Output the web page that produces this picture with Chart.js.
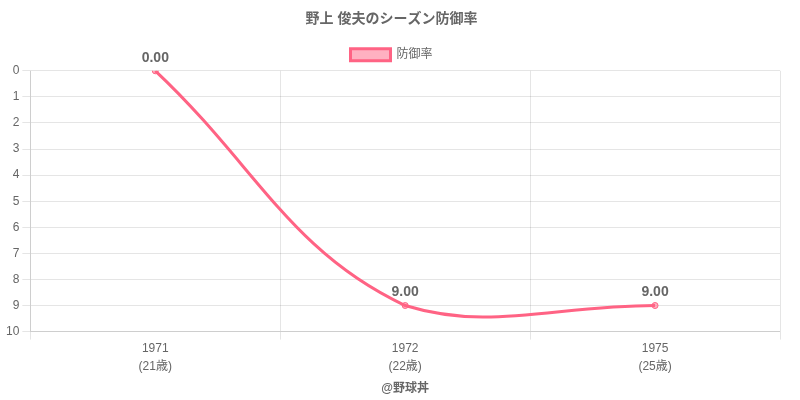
<!DOCTYPE html>
<html>
<head>
<meta charset="utf-8">
<script src="https://cdn.jsdelivr.net/npm/chart.js@4"></script>
<style>
  html, body { margin: 0; padding: 0; background: #fff; }
  #wrap { width: 800px; height: 400px; }
</style>
</head>
<body>
<div id="wrap"><canvas id="eraChart"></canvas></div>
<script>
// season ERA data
const years = ['1971', '1972', '1975'];
const ages = ['(21歳)', '(22歳)', '(25歳)'];
const era = [0.00, 9.00, 9.00];
const yTicks = [0, 1, 2, 3, 4, 5, 6, 7, 8, 9, 10];

Chart.defaults.font.family = "'Helvetica Neue', Helvetica, Arial, 'Noto Sans CJK JP', sans-serif";
Chart.defaults.color = '#666';

// draws value labels above each point
const pointLabels = {
  id: 'pointLabels',
  afterDatasetsDraw(chart) {
    const ctx = chart.ctx;
    const meta = chart.getDatasetMeta(0);
    ctx.save();
    ctx.font = "bold 14px 'Helvetica Neue', Helvetica, Arial, sans-serif";
    ctx.fillStyle = '#666';
    ctx.textAlign = 'center';
    ctx.textBaseline = 'bottom';
    meta.data.forEach((pt, i) => {
      ctx.fillText(era[i].toFixed(2), pt.x, pt.y - 6);
    });
    ctx.restore();
  }
};

const ctx = document.getElementById('eraChart').getContext('2d');
const eraChart = new Chart(ctx, {
  type: 'line',
  data: {
    labels: years.map((y, i) => [y, ages[i]]),
    datasets: [{
      label: '防御率',
      data: era,
      borderColor: 'rgb(255, 99, 132)',
      backgroundColor: 'rgba(255, 99, 132, 0.5)',
      borderWidth: 3,
      pointRadius: 3,
      pointBorderWidth: 1,
      tension: 0.4,
      fill: false
    }]
  },
  options: {
    responsive: true,
    maintainAspectRatio: false,
    animation: false,
    layout: { padding: { left: 3, right: 20, top: 0, bottom: 0 } },
    plugins: {
      title: {
        display: true,
        text: '野上 俊夫のシーズン防御率',
        font: { size: 14, weight: 'bold' },
        color: '#666',
        padding: { top: 11, bottom: 11 }
      },
      legend: {
        display: true,
        position: 'top',
        labels: { font: { size: 12 }, color: '#666' }
      },
      tooltip: { enabled: false }
    },
    scales: {
      x: {
        offset: true,
        grid: { offset: true, color: 'rgba(0,0,0,0.1)' },
        ticks: { font: { size: 12, lineHeight: 1.5 }, color: '#666', padding: 0 },
        title: {
          display: true,
          text: '@野球丼',
          font: { size: 12, weight: 'bold' },
          color: '#666',
          padding: { top: 6, bottom: 4 }
        }
      },
      y: {
        reverse: true,
        min: 0,
        max: 10,
        afterBuildTicks(axis) {
          axis.ticks = yTicks.map(v => ({ value: v }));
        },
        grid: { color: 'rgba(0,0,0,0.1)' },
        ticks: { font: { size: 12 }, color: '#666' }
      }
    }
  },
  plugins: [pointLabels]
});
</script>
</body>
</html>
